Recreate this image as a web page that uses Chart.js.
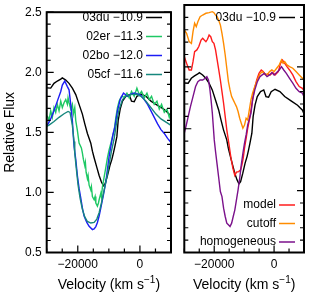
<!DOCTYPE html>
<html>
<head>
<meta charset="utf-8">
<script src="https://cdn.jsdelivr.net/npm/chart.js@4.4.0/dist/chart.umd.min.js"></script>
<style>
  html, body { margin: 0; padding: 0; background: #fff; }
  #wrap { position: relative; width: 309px; height: 298px; overflow: hidden; }
  canvas { position: absolute; top: 0; }
  #left { left: 0; }
  #right { left: 178px; }
</style>
</head>
<body>
<div id="wrap">
  <canvas id="left" width="178" height="298"></canvas>
  <canvas id="right" width="131" height="298"></canvas>
</div>
<script>
const FONT = '"Liberation Sans", Arial, Helvetica, sans-serif';

// 03du (shown in both panels)
const du03V = [-30000, -28710, -27650, -26580, -25480, -24970, -23870, -22810, -21740, -20650, -19580, -18520, -17740, -16900, -15810, -15290, -14740, -13870, -13130, -12390, -11740, -11190, -10450, -9680, -9030, -8520, -8060, -7420, -7000, -6350, -5610, -4520, -3450, -2710, -1840, -970, 320, 1940, 3550, 5680, 7840, 9500, 10000];
const du03Flux = [1.87, 1.868, 1.908, 1.927, 1.943, 1.953, 1.935, 1.908, 1.868, 1.814, 1.733, 1.652, 1.571, 1.491, 1.410, 1.343, 1.289, 1.208, 1.141, 1.087, 1.055, 1.073, 1.141, 1.222, 1.275, 1.329, 1.383, 1.464, 1.598, 1.693, 1.760, 1.800, 1.814, 1.760, 1.755, 1.800, 1.819, 1.800, 1.760, 1.725, 1.69, 1.65, 1.62];

// 02er
const er02V = [-29810, -29260, -28710, -28190, -27650, -27100, -26580, -26030, -25480, -24970, -24420, -23870, -23350, -23130, -22810, -22260, -21740, -21420, -20970, -20650, -20130, -19580, -18840, -18520, -18190, -17740, -17550, -17320, -16900, -16680, -16350, -15810, -15610, -15290, -14740, -14420, -14190, -13680, -13350, -13130, -12580, -12390, -12060, -11520, -10970, -10450, -9900, -9350, -8840, -8290, -7740, -7230, -6680, -5940, -5060, -4190, -3450, -2710, -1840, -970, -230, 520, 1390, 2260, 3000, 3740, 4610, 5480, 6230, 6970, 7840, 8710, 9450, 10000];
const er02Flux = [1.638, 1.598, 1.679, 1.625, 1.706, 1.666, 1.733, 1.679, 1.760, 1.706, 1.747, 1.773, 1.733, 1.787, 1.747, 1.693, 1.733, 1.652, 1.706, 1.598, 1.517, 1.410, 1.370, 1.329, 1.275, 1.222, 1.249, 1.168, 1.114, 1.141, 1.060, 1.020, 1.047, 0.966, 0.939, 0.966, 0.912, 0.885, 0.912, 0.939, 0.993, 0.966, 1.047, 1.127, 1.208, 1.289, 1.356, 1.410, 1.464, 1.517, 1.625, 1.706, 1.760, 1.800, 1.792, 1.827, 1.787, 1.840, 1.800, 1.868, 1.814, 1.840, 1.787, 1.827, 1.773, 1.800, 1.733, 1.760, 1.693, 1.733, 1.666, 1.693, 1.625, 1.666];

// 02bo
const bo02V = [-29810, -28710, -27650, -26580, -25480, -24970, -24190, -23350, -22810, -22260, -21740, -21420, -21190, -20650, -20130, -19580, -19030, -18520, -17970, -17100, -16350, -15290, -14740, -14190, -13680, -13130, -12580, -11740, -10970, -10450, -9900, -9350, -8610, -8060, -7230, -6350, -5290, -4000, -2900, -1840, -770, 320, 1390, 2450, 3550, 4610, 5680, 6770, 7840, 8900, 10000];
const bo02Flux = [1.558, 1.612, 1.679, 1.760, 1.840, 1.894, 1.927, 1.881, 1.854, 1.733, 1.598, 1.464, 1.383, 1.275, 1.141, 1.033, 0.952, 0.871, 0.804, 0.750, 0.718, 0.691, 0.697, 0.716, 0.750, 0.804, 0.871, 0.980, 1.087, 1.194, 1.303, 1.383, 1.491, 1.545, 1.679, 1.773, 1.827, 1.800, 1.819, 1.827, 1.819, 1.808, 1.773, 1.733, 1.679, 1.625, 1.571, 1.523, 1.491, 1.450, 1.416];

// 05cf
const cf05V = [-30000, -29260, -27650, -26030, -24420, -23130, -22480, -21740, -21190, -20970, -20450, -19900, -19260, -18520, -17740, -16900, -15810, -14740, -13870, -13130, -12390, -11520, -10650, -9900, -9160, -8290, -7420, -6680, -5610, -4520, -2900, -1290, 320, 1940, 3550, 5160, 6770, 8390, 10000];
const cf05Flux = [1.55, 1.56, 1.59, 1.625, 1.655, 1.674, 1.666, 1.558, 1.424, 1.329, 1.194, 1.060, 0.952, 0.859, 0.796, 0.758, 0.745, 0.750, 0.778, 0.831, 0.912, 1.020, 1.127, 1.235, 1.343, 1.450, 1.598, 1.693, 1.773, 1.800, 1.814, 1.819, 1.800, 1.760, 1.706, 1.652, 1.612, 1.585, 1.558];

// model
const modelV = [-30000, -29240, -28380, -27620, -27090, -26550, -25800, -25150, -24400, -23860, -23320, -22780, -22250, -21710, -21170, -20630, -20100, -19560, -19020, -18480, -17950, -17410, -16870, -16330, -15800, -15040, -14400, -13750, -13110, -12570, -11820, -11170, -10740, -10310, -9880, -9340, -8810, -8270, -7520, -6660, -5800, -5040, -4290, -3650, -2890, -2140, -1280, -420, 330, 1410, 2160, 2810, 3560, 4310, 5170, 6250, 7320, 8400, 9470, 10000];
const modelFlux = [2.083, 2.029, 1.975, 1.975, 2.042, 2.123, 2.137, 2.164, 2.217, 2.231, 2.217, 2.204, 2.223, 2.258, 2.244, 2.204, 2.190, 2.137, 2.056, 1.975, 1.894, 1.800, 1.706, 1.598, 1.491, 1.370, 1.262, 1.181, 1.122, 1.149, 1.154, 1.168, 1.208, 1.262, 1.343, 1.423, 1.504, 1.570, 1.679, 1.814, 1.894, 1.948, 1.975, 1.962, 1.935, 1.943, 1.935, 1.954, 1.935, 1.962, 2.029, 2.056, 2.029, 2.002, 1.975, 1.935, 1.881, 1.841, 1.827, 1.808];

// cutoff
const cutoffV = [-30000, -29240, -28380, -27620, -27090, -26550, -26010, -25470, -24720, -23860, -22780, -21710, -20630, -20100, -19560, -19020, -18480, -17950, -17410, -16870, -16330, -15800, -15260, -14720, -14180, -13650, -13110, -12570, -12030, -11490, -10960, -10420, -9880, -9340, -8810, -8270, -7730, -7190, -6440, -5580, -4720, -3970, -3220, -2360, -1490, -740, 10, 870, 1730, 2480, 3020, 3560, 4310, 5170, 6250, 7320, 8400, 9470, 10000];
const cutoffFlux = [2.298, 2.271, 2.204, 2.190, 2.285, 2.352, 2.325, 2.365, 2.406, 2.419, 2.433, 2.438, 2.446, 2.438, 2.419, 2.406, 2.374, 2.339, 2.271, 2.190, 2.096, 1.989, 1.881, 1.814, 1.760, 1.733, 1.706, 1.679, 1.639, 1.585, 1.545, 1.504, 1.530, 1.585, 1.571, 1.652, 1.733, 1.787, 1.841, 1.894, 1.943, 1.962, 1.948, 1.935, 1.962, 1.975, 1.962, 1.989, 2.016, 2.056, 2.029, 2.042, 2.016, 2.002, 1.989, 1.962, 1.935, 1.908, 1.908];

// homogeneous
const homogV = [-30000, -29450, -28700, -27950, -27090, -26230, -25470, -24720, -23860, -23000, -22460, -21930, -21490, -21060, -20630, -20310, -19990, -19560, -19020, -18480, -17950, -17410, -16870, -16330, -15800, -15260, -14720, -14180, -13650, -13110, -12570, -12030, -11490, -10960, -10420, -9880, -9340, -8810, -7730, -7190, -6440, -5580, -4720, -3970, -3220, -2360, -1490, -740, 10, 870, 1730, 2480, 3240, 4100, 5170, 6250, 7320, 8400, 9470, 10000];
const homogFlux = [1.464, 1.518, 1.598, 1.679, 1.760, 1.841, 1.881, 1.894, 1.894, 1.908, 1.921, 1.894, 1.827, 1.733, 1.625, 1.518, 1.410, 1.316, 1.208, 1.100, 0.993, 0.952, 0.858, 0.791, 0.737, 0.724, 0.710, 0.737, 0.791, 0.845, 0.925, 1.006, 1.100, 1.208, 1.302, 1.383, 1.450, 1.531, 1.625, 1.733, 1.814, 1.881, 1.921, 1.935, 1.948, 1.921, 1.935, 1.954, 1.935, 1.954, 1.975, 2.002, 1.975, 1.948, 1.908, 1.868, 1.827, 1.800, 1.787, 1.760];

const leftLabels = ["03du \u221210.9", "02er \u221211.3", "02bo \u221212.0", "05cf \u221211.6"];
const leftColors = ["#000000", "#1ec864", "#1c1cf5", "#16877d"];
const rightLabels = ["03du \u221210.9", "model", "cutoff", "homogeneous"];
const rightColors = ["#000000", "#ff1c1c", "#ff8c00", "#7b118b"];

const xLabelValues = [-20000, 0];
const yLabelValues = [0.5, 1.0, 1.5, 2.0, 2.5];

const pts = (vs, fs) => vs.map((v, i) => ({ x: v, y: fs[i] }));
const isYLabel = v => yLabelValues.some(l => Math.abs(l - v) < 1e-6);

const fmtX = v => xLabelValues.includes(v) ? (v < 0 ? "\u2212" + Math.abs(v) : String(v)) : "";
const fmtY = v => isYLabel(v) ? Number(v).toFixed(1) : "";

// box, inward ticks, legend and axis titles
const framePlugin = {
    id: "frame",
    afterDraw(chart, args, opts) {
        const ctx = chart.ctx;
        const a = chart.chartArea;
        const xs = chart.scales.x, ys = chart.scales.y;
        ctx.save();
        ctx.strokeStyle = "#000";
        ctx.lineWidth = 1.2;
        ctx.beginPath();
        xs.ticks.forEach(t => {
            const px = xs.getPixelForValue(t.value);
            const len = xLabelValues.includes(t.value) ? 7 : 4;
            ctx.moveTo(px, a.bottom);
            ctx.lineTo(px, a.bottom - len);
        });
        ys.ticks.forEach(t => {
            const py = ys.getPixelForValue(t.value);
            const len = isYLabel(t.value) ? 7 : 4;
            ctx.moveTo(a.left, py);
            ctx.lineTo(a.left + len, py);
            ctx.moveTo(a.right, py);
            ctx.lineTo(a.right - len, py);
        });
        ctx.stroke();
        ctx.lineWidth = 2;
        ctx.strokeRect(a.left, a.top, a.right - a.left, a.bottom - a.top);

        // legend
        ctx.font = "12px " + FONT;
        ctx.textAlign = "right";
        ctx.textBaseline = "middle";
        opts.labels.forEach((lab, i) => {
            const y = opts.rows[i];
            ctx.fillStyle = "#000";
            ctx.fillText(lab, a.right - 28, y);
            ctx.strokeStyle = opts.colors[i];
            ctx.lineWidth = 1.5;
            ctx.beginPath();
            ctx.moveTo(a.right - 25, y);
            ctx.lineTo(a.right - 9, y);
            ctx.stroke();
        });

        // x title with superscript
        ctx.fillStyle = "#000";
        ctx.textAlign = "left";
        ctx.textBaseline = "alphabetic";
        const big = "14px " + FONT, small = "10px " + FONT;
        const p1 = "Velocity (km s", p2 = "\u22121", p3 = ")";
        ctx.font = big; const w1 = ctx.measureText(p1).width, w3 = ctx.measureText(p3).width;
        ctx.font = small; const w2 = ctx.measureText(p2).width;
        let x0 = (a.left + a.right) / 2 - (w1 + w2 + w3) / 2;
        const yb = 289;
        ctx.font = big; ctx.fillText(p1, x0, yb);
        ctx.font = small; ctx.fillText(p2, x0 + w1, yb - 6);
        ctx.font = big; ctx.fillText(p3, x0 + w1 + w2, yb);

        if (opts.yTitle) {
            ctx.translate(10, (a.top + a.bottom) / 2);
            ctx.rotate(-Math.PI / 2);
            ctx.textAlign = "center";
            ctx.textBaseline = "middle";
            ctx.font = big;
            ctx.fillText(opts.yTitle, 0, 0);
        }
        ctx.restore();
    }
};

const line = (data, color, order) => ({
    data: data, borderColor: color, borderWidth: 1.4, pointRadius: 0,
    fill: false, tension: 0, order: order
});

const makeScales = (showY, yWidth) => ({
    x: {
        type: "linear", min: -30000, max: 10000,
        ticks: { stepSize: 5000, autoSkip: false, maxRotation: 0, padding: 5,
                 color: "#000", font: { size: 12, family: FONT }, callback: fmtX },
        grid: { drawOnChartArea: false, drawTicks: false },
        border: { display: false },
        afterFit: s => { s.height = 45.5; }
    },
    y: {
        min: 0.5, max: 2.5,
        ticks: { display: showY, stepSize: 0.1, autoSkip: false, padding: 5,
                 color: "#000", font: { size: 12, family: FONT }, callback: fmtY },
        grid: { drawOnChartArea: false, drawTicks: false },
        border: { display: false },
        afterFit: s => { s.width = yWidth; }
    }
});

new Chart(document.getElementById("left"), {
    type: "line",
    data: {
        datasets: [
            line(pts(du03V, du03Flux), leftColors[0], 4),
            line(pts(er02V, er02Flux), leftColors[1], 3),
            line(pts(bo02V, bo02Flux), leftColors[2], 2),
            line(pts(cf05V, cf05Flux), leftColors[3], 1)
        ]
    },
    options: {
        responsive: false, animation: false, devicePixelRatio: 1,
        layout: { padding: { top: 5, right: 7, left: 0, bottom: 0 } },
        plugins: {
            legend: { display: false }, tooltip: { enabled: false },
            frame: { labels: leftLabels, colors: leftColors, rows: [17.5, 36.5, 55.5, 74.5], yTitle: "Relative Flux" }
        },
        scales: makeScales(true, 46.7)
    },
    plugins: [framePlugin]
});

new Chart(document.getElementById("right"), {
    type: "line",
    data: {
        datasets: [
            line(pts(du03V, du03Flux), rightColors[0], 4),
            line(pts(modelV, modelFlux), rightColors[1], 3),
            line(pts(cutoffV, cutoffFlux), rightColors[2], 2),
            line(pts(homogV, homogFlux), rightColors[3], 1)
        ]
    },
    options: {
        responsive: false, animation: false, devicePixelRatio: 1,
        layout: { padding: { top: 5, right: 0.3, left: 0, bottom: 0 } },
        plugins: {
            legend: { display: false }, tooltip: { enabled: false },
            frame: { labels: rightLabels, colors: rightColors, rows: [17.5, 205, 223.5, 242], yTitle: null }
        },
        scales: makeScales(false, 6.3)
    },
    plugins: [framePlugin]
});
</script>
</body>
</html>
